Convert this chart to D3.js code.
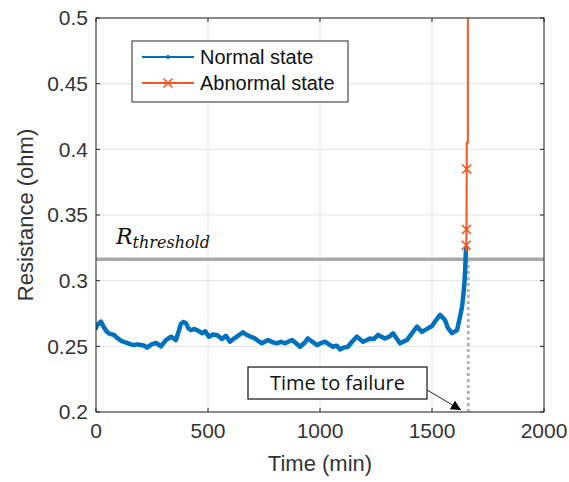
<!DOCTYPE html>
<html>
<head>
<meta charset="utf-8">
<script src="https://cdn.jsdelivr.net/npm/d3@7"></script>
<style>
  body { margin: 0; background: #fff; }
  svg { display: block; font-family: "Liberation Sans", Arial, sans-serif; }
</style>
</head>
<body>
<svg width="569" height="482"></svg>
<script>
// normal state (blue) readings
const normalTime = [0, 4, 22, 35, 49, 62, 80, 94, 115, 138, 155, 170, 185, 201, 215, 228, 248, 268, 290, 312, 335, 357, 370, 379, 390, 402, 413, 424, 437, 451, 473, 488, 504, 522, 540, 562, 580, 598, 612, 629, 656, 670, 688, 705, 719, 741, 768, 790, 808, 825, 844, 875, 892, 911, 930, 946, 965, 987, 1005, 1022, 1040, 1058, 1075, 1089, 1105, 1125, 1143, 1165, 1192, 1210, 1223, 1240, 1259, 1290, 1310, 1326, 1357, 1388, 1411, 1433, 1455, 1482, 1500, 1513, 1536, 1558, 1571, 1589, 1612, 1625, 1634, 1640, 1645, 1648, 1650, 1652];
const normalRes = [0.264, 0.266, 0.2688, 0.2645, 0.261, 0.2595, 0.2587, 0.2565, 0.254, 0.2526, 0.2515, 0.251, 0.2515, 0.251, 0.2505, 0.249, 0.2515, 0.2526, 0.250, 0.2548, 0.2573, 0.2548, 0.262, 0.267, 0.2685, 0.2675, 0.2635, 0.2624, 0.2632, 0.2624, 0.260, 0.2615, 0.2573, 0.259, 0.2587, 0.2556, 0.258, 0.2535, 0.2555, 0.2574, 0.2607, 0.259, 0.2574, 0.2565, 0.2548, 0.2523, 0.2548, 0.253, 0.2523, 0.2535, 0.2523, 0.2548, 0.2525, 0.2497, 0.2525, 0.256, 0.2535, 0.251, 0.2525, 0.2535, 0.2515, 0.2497, 0.2505, 0.2477, 0.249, 0.2497, 0.2535, 0.2574, 0.2535, 0.2548, 0.256, 0.2555, 0.2587, 0.256, 0.2575, 0.2599, 0.2523, 0.2548, 0.260, 0.265, 0.261, 0.2637, 0.2655, 0.2688, 0.274, 0.270, 0.264, 0.260, 0.2624, 0.2726, 0.280, 0.289, 0.299, 0.308, 0.317, 0.325];
// abnormal state (orange) readings
const abnormalTime = [1652, 1653, 1654, 1655, 1655, 1660, 1660];
const abnormalRes = [0.322, 0.327, 0.339, 0.385, 0.405, 0.405, 0.52];
const abnormalMarked = [false, true, true, true, false, false, false];

const threshold = 0.3163;
const failureTime = 1662;

const xTicks = [0, 500, 1000, 1500, 2000];
const yTicks = [0.2, 0.25, 0.3, 0.35, 0.4, 0.45, 0.5];

const svg = d3.select("svg");
const margin = { left: 96, top: 18, right: 25, bottom: 70 };
const W = 569 - margin.left - margin.right;
const H = 482 - margin.top - margin.bottom;

const x = d3.scaleLinear().domain([0, 2000]).range([0, W]);
const y = d3.scaleLinear().domain([0.2, 0.5]).range([H, 0]);

const g = svg.append("g").attr("transform", `translate(${margin.left},${margin.top})`);

svg.append("defs").append("clipPath").attr("id", "clip")
  .append("rect").attr("width", W).attr("height", H);

// grid
g.append("g").selectAll("line").data(xTicks).join("line")
  .attr("x1", d => x(d)).attr("x2", d => x(d)).attr("y1", 0).attr("y2", H)
  .attr("stroke", "#e3e3e3").attr("stroke-width", 1);
g.append("g").selectAll("line").data(yTicks).join("line")
  .attr("y1", d => y(d)).attr("y2", d => y(d)).attr("x1", 0).attr("x2", W)
  .attr("stroke", "#e3e3e3").attr("stroke-width", 1);

// threshold line
g.append("line")
  .attr("x1", 0).attr("x2", W).attr("y1", y(threshold)).attr("y2", y(threshold))
  .attr("stroke", "#a8a8a8").attr("stroke-width", 3.5);

// failure dotted line
g.append("line")
  .attr("x1", x(failureTime)).attr("x2", x(failureTime))
  .attr("y1", y(0.2)).attr("y2", y(0.318))
  .attr("stroke", "#b4b4b4").attr("stroke-width", 3).attr("stroke-dasharray", "3,3");

const plot = g.append("g").attr("clip-path", "url(#clip)");

const normal = normalTime.map((t, i) => [t, normalRes[i]]);
const abnormal = abnormalTime.map((t, i) => [t, abnormalRes[i], abnormalMarked[i]]);

const line = d3.line().x(d => x(d[0])).y(d => y(d[1])).curve(d3.curveLinear);

plot.append("path").datum(normal)
  .attr("d", line)
  .attr("fill", "none").attr("stroke", "#0072bd")
  .attr("stroke-width", 4.5).attr("stroke-linejoin", "round").attr("stroke-linecap", "round");

plot.append("path").datum(abnormal)
  .attr("d", line)
  .attr("fill", "none").attr("stroke", "#f0561e").attr("stroke-width", 2);

const xMark = (sel, s) => sel.append("path")
  .attr("d", `M${-s},${-s}L${s},${s}M${-s},${s}L${s},${-s}`)
  .attr("stroke", "#f0561e").attr("stroke-width", 1.6).attr("fill", "none");

abnormal.filter(d => d[2]).forEach(d => {
  const m = plot.append("g").attr("transform", `translate(${x(d[0])},${y(d[1])})`);
  xMark(m, 4.5);
});

// axes box and inner ticks
g.append("rect").attr("width", W).attr("height", H)
  .attr("fill", "none").attr("stroke", "#262626").attr("stroke-width", 1);

const tk = 4;
g.append("g").selectAll("path").data(xTicks).join("path")
  .attr("d", d => `M${x(d)},${H}v${-tk}M${x(d)},0v${tk}`)
  .attr("stroke", "#262626");
g.append("g").selectAll("path").data(yTicks).join("path")
  .attr("d", d => `M0,${y(d)}h${tk}M${W},${y(d)}h${-tk}`)
  .attr("stroke", "#262626");

// tick labels
g.append("g").selectAll("text").data(yTicks).join("text")
  .attr("x", -8).attr("y", d => y(d)).attr("dy", "0.35em")
  .attr("text-anchor", "end").attr("font-size", 21).attr("fill", "#333")
  .text(d => d3.format("")(d));
g.append("g").selectAll("text").data(xTicks).join("text")
  .attr("x", d => x(d)).attr("y", H + 26)
  .attr("text-anchor", "middle").attr("font-size", 21).attr("fill", "#333")
  .text(d => d);

// axis labels
svg.append("text")
  .attr("x", margin.left + W / 2).attr("y", 471)
  .attr("text-anchor", "middle").attr("font-size", 22).attr("fill", "#333")
  .text("Time (min)");
svg.append("text")
  .attr("transform", `translate(33,${margin.top + H / 2}) rotate(-90)`)
  .attr("text-anchor", "middle").attr("font-size", 22).attr("fill", "#333")
  .text("Resistance (ohm)");

// R threshold label
const rl = svg.append("text")
  .attr("x", 116).attr("y", 244)
  .attr("font-family", "'DejaVu Serif', 'Liberation Serif', serif")
  .attr("font-style", "italic").attr("fill", "#111");
rl.append("tspan").attr("font-size", 22).text("R");
rl.append("tspan").attr("font-size", 16).attr("dy", 4).text("threshold");

// legend
const lg = svg.append("g").attr("transform", "translate(132,41)");
lg.append("rect").attr("width", 216).attr("height", 61)
  .attr("fill", "#fff").attr("stroke", "#262626").attr("stroke-width", 1);
lg.append("line").attr("x1", 10).attr("x2", 62).attr("y1", 16).attr("y2", 16)
  .attr("stroke", "#0072bd").attr("stroke-width", 2);
lg.append("circle").attr("cx", 36).attr("cy", 16).attr("r", 2).attr("fill", "#0072bd");
lg.append("line").attr("x1", 10).attr("x2", 62).attr("y1", 42).attr("y2", 42)
  .attr("stroke", "#f0561e").attr("stroke-width", 2);
xMark(lg.append("g").attr("transform", "translate(36,42)"), 4.5);
lg.append("text").attr("x", 68).attr("y", 16).attr("dy", "0.35em")
  .attr("font-size", 20).attr("fill", "#111").text("Normal state");
lg.append("text").attr("x", 68).attr("y", 42).attr("dy", "0.35em")
  .attr("font-size", 20).attr("fill", "#111").text("Abnormal state");

// time to failure annotation
const ann = svg.append("g");
ann.append("rect").attr("x", 248).attr("y", 367).attr("width", 179).attr("height", 32)
  .attr("fill", "#fff").attr("stroke", "#111").attr("stroke-width", 1.2);
ann.append("text").attr("x", 337.5).attr("y", 383).attr("dy", "0.35em")
  .attr("text-anchor", "middle").attr("font-size", 20)
  .attr("font-family", "'Open Sans', 'Liberation Sans', sans-serif")
  .attr("fill", "#111").text("Time to failure");
svg.append("defs").append("marker").attr("id", "arrow")
  .attr("viewBox", "0 0 10 10").attr("refX", 10).attr("refY", 5)
  .attr("markerWidth", 10).attr("markerHeight", 10).attr("markerUnits", "userSpaceOnUse")
  .attr("orient", "auto")
  .append("path").attr("d", "M0,0L10,5L0,10Z").attr("fill", "#000");
ann.append("line").attr("x1", 427).attr("y1", 390).attr("x2", 461).attr("y2", 410)
  .attr("stroke", "#222").attr("stroke-width", 1).attr("marker-end", "url(#arrow)");
</script>
</body>
</html>
